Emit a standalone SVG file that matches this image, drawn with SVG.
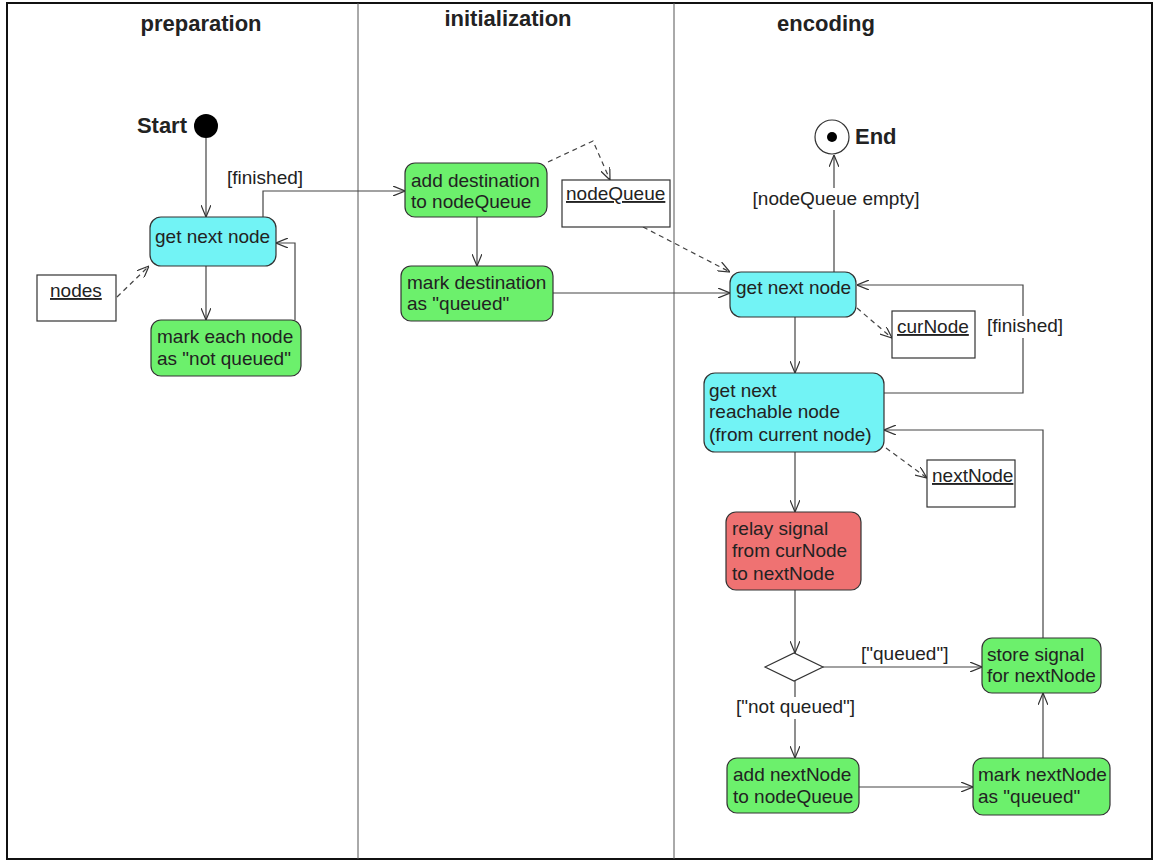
<svg xmlns="http://www.w3.org/2000/svg" width="1156" height="863" viewBox="0 0 1156 863">
<defs>
<style>
.t{font-family:"Liberation Sans",Arial,sans-serif;font-size:19px;fill:#222}
.h{font-family:"Liberation Sans",Arial,sans-serif;font-size:22px;font-weight:bold;fill:#222}
.cy{fill:#72f3f5;stroke:#333;stroke-width:1.2}
.gr{fill:#6cf06c;stroke:#333;stroke-width:1.2}
.rd{fill:#ef7272;stroke:#333;stroke-width:1.2}
.ob{fill:#fff;stroke:#333;stroke-width:1.2}
.c{fill:none;stroke:#444;stroke-width:1.2}
.d{fill:none;stroke:#444;stroke-width:1.2;stroke-dasharray:5,4}
.bg{fill:#fff}
</style>
<marker id="a" viewBox="0 0 12 10" refX="12" refY="5" markerWidth="12" markerHeight="10" orient="auto" markerUnits="userSpaceOnUse"><path d="M0,0 L12,5 L0,10" fill="none" stroke="#333" stroke-width="1.2"/></marker>
</defs>
<rect x="0" y="0" width="1156" height="863" fill="#fff"/>
<g id="frame">
<rect x="7" y="3" width="1145" height="856" fill="none" stroke="#111" stroke-width="2"/>
<line x1="358" y1="3" x2="358" y2="859" stroke="#555" stroke-width="1"/>
<line x1="674" y1="3" x2="674" y2="859" stroke="#555" stroke-width="1"/>
<text class="h" x="201" y="31" text-anchor="middle">preparation</text>
<text class="h" x="508" y="26" text-anchor="middle">initialization</text>
<text class="h" x="826" y="31" text-anchor="middle">encoding</text>
</g>
<g id="connectors">
<path class="c" d="M206,138 V217" marker-end="url(#a)"/>
<path class="c" d="M206,266 V320" marker-end="url(#a)"/>
<path class="c" d="M295,320 V243 H276" marker-end="url(#a)"/>
<path class="d" d="M117,297 L149,266" marker-end="url(#a)"/>
<path class="c" d="M263,217 V191 H405" marker-end="url(#a)"/>
<path class="c" d="M477,217 V266" marker-end="url(#a)"/>
<path class="d" d="M548,162 L593,141 L610,180" marker-end="url(#a)"/>
<path class="d" d="M643,227 L730,272" marker-end="url(#a)"/>
<path class="c" d="M553,293 H730" marker-end="url(#a)"/>
<path class="c" d="M834,272 V155" marker-end="url(#a)"/>
<path class="d" d="M857,308 L892,338" marker-end="url(#a)"/>
<path class="c" d="M795,317 V373" marker-end="url(#a)"/>
<path class="c" d="M884,393 H1023 V285 H857" marker-end="url(#a)"/>
<path class="d" d="M886,448 L927,478" marker-end="url(#a)"/>
<path class="c" d="M795,452 V512" marker-end="url(#a)"/>
<path class="c" d="M795,590 V653" marker-end="url(#a)"/>
<path class="c" d="M823,667 H982" marker-end="url(#a)"/>
<path class="c" d="M795,681 V758" marker-end="url(#a)"/>
<path class="c" d="M859,787 H973" marker-end="url(#a)"/>
<path class="c" d="M1043,758 V693" marker-end="url(#a)"/>
<path class="c" d="M1043,638 V430 H884" marker-end="url(#a)"/>
<text class="t" x="227" y="184">[finished]</text>
<rect class="bg" x="750" y="188" width="172" height="22"/>
<text class="t" x="836" y="205" text-anchor="middle">[nodeQueue empty]</text>
<rect class="bg" x="985" y="316" width="82" height="22"/>
<text class="t" x="987" y="332">[finished]</text>
<text class="t" x="861" y="660">["queued"]</text>
<rect class="bg" x="734" y="697" width="126" height="22"/>
<text class="t" x="736" y="713">["not queued"]</text>
</g>
<g id="start">
<circle cx="206" cy="126" r="12" fill="#000"/>
<text class="h" x="187" y="133" text-anchor="end">Start</text>
</g>
<g id="end">
<circle cx="832" cy="137" r="17" fill="#fff" stroke="#333" stroke-width="1.2"/>
<circle cx="832" cy="137" r="5" fill="#000"/>
<text class="h" x="855" y="144">End</text>
</g>
<g id="prep-get-next-node">
<rect class="cy" x="150" y="217" width="126" height="49" rx="11"/>
<text class="t" x="155" y="243">get next node</text>
</g>
<g id="mark-each-node">
<rect class="gr" x="151" y="320" width="150" height="56" rx="10"/>
<text class="t" x="157" y="343">mark each node</text>
<text class="t" x="157" y="365">as "not queued"</text>
</g>
<g id="nodes">
<rect class="ob" x="37" y="275" width="79" height="46"/>
<text class="t" x="50" y="297" text-decoration="underline">nodes</text>
</g>
<g id="add-destination">
<rect class="gr" x="405" y="163" width="142" height="54" rx="10"/>
<text class="t" x="411" y="187">add destination</text>
<text class="t" x="411" y="208">to nodeQueue</text>
</g>
<g id="mark-destination">
<rect class="gr" x="401" y="266" width="152" height="55" rx="10"/>
<text class="t" x="407" y="289">mark destination</text>
<text class="t" x="407" y="310">as "queued"</text>
</g>
<g id="nodeQueue">
<rect class="ob" x="562" y="180" width="108" height="47"/>
<text class="t" x="566" y="200" text-decoration="underline">nodeQueue</text>
</g>
<g id="enc-get-next-node">
<rect class="cy" x="730" y="272" width="126" height="45" rx="11"/>
<text class="t" x="736" y="294">get next node</text>
</g>
<g id="curNode">
<rect class="ob" x="892" y="311" width="83" height="47"/>
<text class="t" x="897" y="333" text-decoration="underline">curNode</text>
</g>
<g id="get-next-reachable">
<rect class="cy" x="704" y="373" width="180" height="79" rx="11"/>
<text class="t" x="709" y="397">get next</text>
<text class="t" x="709" y="418">reachable node</text>
<text class="t" x="709" y="441">(from current node)</text>
</g>
<g id="nextNode">
<rect class="ob" x="927" y="460" width="88" height="47"/>
<text class="t" x="932" y="482" text-decoration="underline">nextNode</text>
</g>
<g id="relay-signal">
<rect class="rd" x="726" y="512" width="135" height="78" rx="10"/>
<text class="t" x="732" y="535">relay signal</text>
<text class="t" x="732" y="557">from curNode</text>
<text class="t" x="732" y="580">to nextNode</text>
</g>
<g id="decision">
<polygon points="765,667 794,653 823,667 794,681" fill="#fff" stroke="#333" stroke-width="1.2"/>
</g>
<g id="store-signal">
<rect class="gr" x="982" y="638" width="119" height="55" rx="10"/>
<text class="t" x="987" y="661">store signal</text>
<text class="t" x="987" y="682">for nextNode</text>
</g>
<g id="add-nextNode">
<rect class="gr" x="727" y="758" width="132" height="55" rx="10"/>
<text class="t" x="733" y="781">add nextNode</text>
<text class="t" x="733" y="803">to nodeQueue</text>
</g>
<g id="mark-nextNode">
<rect class="gr" x="973" y="758" width="137" height="57" rx="10"/>
<text class="t" x="978" y="781">mark nextNode</text>
<text class="t" x="978" y="803">as "queued"</text>
</g>
</svg>
